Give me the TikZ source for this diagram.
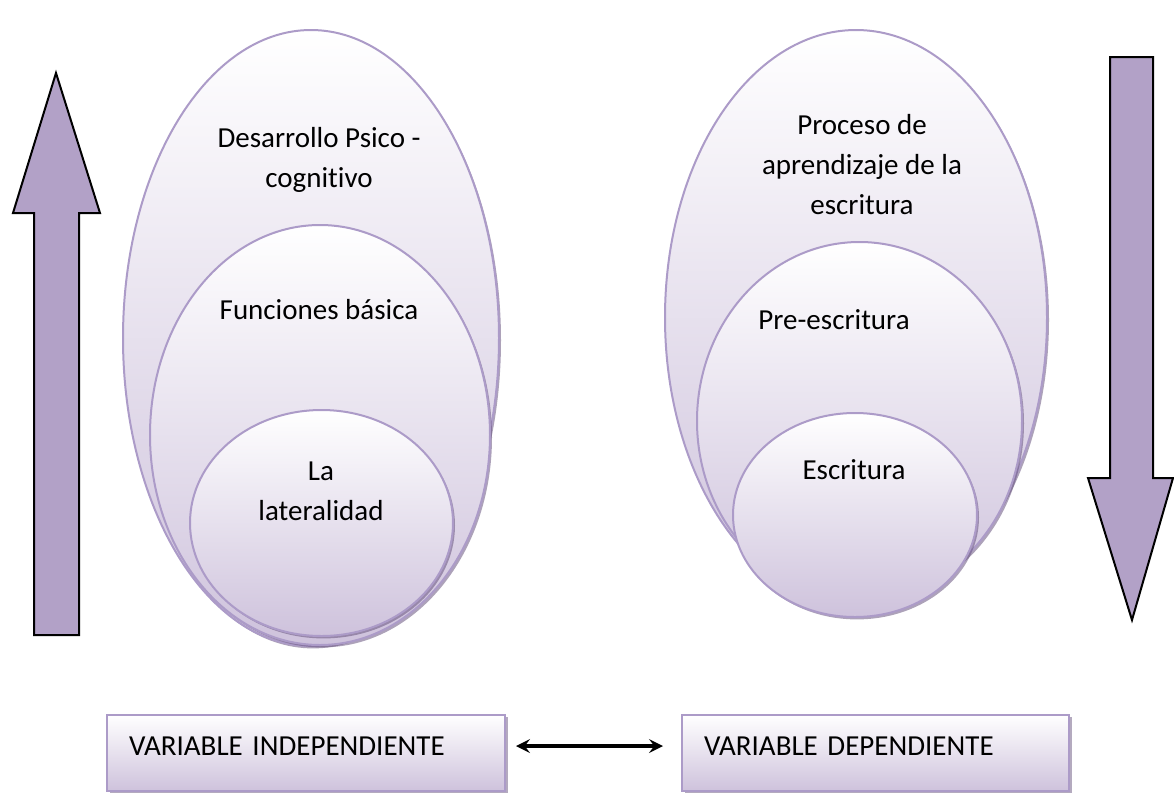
\documentclass[tikz,border=0pt]{standalone}
\usepackage{fontspec}
\setmainfont{Carlito}[Ligatures=NoCommon]
\usetikzlibrary{shapes.geometric,shadows}
\definecolor{lavfill}{RGB}{178,161,199}
\definecolor{lavline}{RGB}{172,155,200}
\definecolor{lavbot}{RGB}{206,194,220}
\definecolor{lavdark}{RGB}{105,85,128}
\tikzset{
  bubble/.style={ellipse, draw=lavline, line width=1pt, top color=white,
    bottom color=lavbot, drop shadow={shadow xshift=1pt,
      shadow yshift=-1.2pt, fill=lavdark, opacity=.55}},
  varbox/.style={rectangle, draw=lavline, line width=1pt, top color=white,
    bottom color=lavbot, anchor=north west, inner xsep=11pt,
    inner ysep=0pt, text height=20pt, text depth=18pt, align=left,
    font=\fontsize{14.5}{20}\selectfont, drop shadow={shadow xshift=1.5pt,
      shadow yshift=-1pt, fill=lavdark, opacity=.5}},
  bigarrow/.style={draw=black, line width=1pt, fill=lavfill},
  lbl/.style={font=\fontsize{14.5}{20}\selectfont, align=center}
}
\begin{document}
\begin{tikzpicture}[x=0.5pt, y=-0.5pt]
  \useasboundingbox (0,0) rectangle (1174,794);

  \draw[bigarrow] (34,635) -- (34,213) -- (13,213) -- (56,73) -- (100,213)
  -- (79,213) -- (79,635) -- cycle;
  \draw[bigarrow] (1110,57) -- (1153,57) -- (1153,478) -- (1173,478) --
  (1132,620) -- (1088,478) -- (1110,478) -- cycle;

  \begin{scope}
    \node[bubble, minimum width=188pt, minimum height=308pt] (desarrollo)
    at (311,338) {}; \node[bubble, minimum width=170pt, minimum
    height=210pt] (funciones) at (320,435) {}; \node[bubble, minimum
    width=131.5pt, minimum height=113pt] (lateral) at (321.5,523) {};

    \node[lbl] (tdesarrollo) at (319,160) {Desarrollo Psico -\\cognitivo};
    \node[lbl] (tfunciones) at (319,310) {Funciones básica}; \node[lbl]
    (tlateral) at (321,491) {La\\lateralidad};
  \end{scope}

  \begin{scope}
    \node[bubble, minimum width=191pt, minimum height=287.5pt] (proceso)
    at (856,317.5) {}; \node[bubble, minimum width=162.5pt, minimum
    height=179pt] (pre) at (859.5,421) {}; \node[bubble, minimum
    width=122pt, minimum height=102pt] (escr) at (855,515) {};

    \node[lbl] (tproceso) at (862,165) {Proceso de\\aprendizaje de
      la\\escritura}; \node[lbl] (tpre) at (834,320) {Pre-escritura};
    \node[lbl] (tescr) at (854,470) {Escritura};
  \end{scope}

  \node[varbox, text width=177pt] (indep) at (106,714) {VARIABLE
    INDEPENDIENTE}; \node[varbox, text width=171.5pt] (dep) at (681,714)
  {VARIABLE DEPENDIENTE};

  \begin{scope}[<->,>=stealth, line width=2pt]
    \draw[shorten <=5pt, shorten >=9pt] ([yshift=3.5pt]indep.east) --
    ([yshift=3.5pt]dep.west);
  \end{scope}
\end{tikzpicture}
\end{document}
